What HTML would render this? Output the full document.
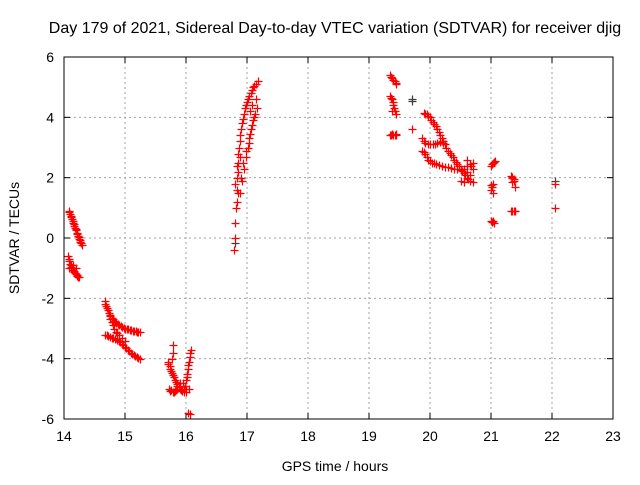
<!DOCTYPE html>
<html><head><meta charset="utf-8"><style>
body{margin:0;background:#fff;}
svg text{font-family:"Liberation Sans",sans-serif;font-size:14px;fill:#000;}
</style></head><body>
<svg id="chart" width="640" height="480" xmlns="http://www.w3.org/2000/svg">
<text x="335" y="33" text-anchor="middle" style="font-size:16px">Day 179 of 2021, Sidereal Day-to-day VTEC variation (SDTVAR) for receiver djig</text>
<g id="grid"></g><g id="axes"></g><g id="marks"></g>
<text x="335" y="471" text-anchor="middle">GPS time / hours</text>
<text x="0" y="0" text-anchor="middle" transform="translate(19,238) rotate(-90)">SDTVAR / TECUs</text>
</svg>
<script>
const xTicks=[14,15,16,17,18,19,20,21,22,23];
const yTicks=[-6,-4,-2,0,2,4,6];
const times=[14.08,14.10,14.12,14.14,14.16,14.18,14.20,14.22,14.24,14.26,14.28,14.29,
14.07,14.08,14.10,14.12,14.09,14.14,14.16,14.18,14.20,14.22,14.25,14.15,14.19,
14.67,14.69,14.72,14.75,14.78,14.82,14.86,14.90,14.95,15.0,15.05,15.1,15.15,15.2,15.25,
14.67,14.72,14.78,14.84,14.9,14.95,15.0,15.05,15.1,15.15,15.2,15.24,14.75,14.8,14.85,14.9,
15.70,15.73,15.76,15.79,15.82,15.85,15.88,15.92,15.96,15.72,15.76,15.80,15.84,15.78,15.78,15.77,15.98,16.0,16.02,16.04,16.06,16.08,16.0,16.05,16.03,16.06,15.95,
16.79,16.80,16.81,16.82,16.83,16.84,16.86,16.87,16.89,16.92,16.95,16.98,17.02,17.06,17.1,17.15,17.18,16.8,16.83,16.85,16.88,
16.88,16.92,16.95,16.98,17.01,17.04,17.07,17.1,17.13,17.16,16.9,16.93,
19.35,19.38,19.42,19.45,19.35,19.38,19.40,19.42,19.45,19.37,19.35,19.38,19.42,19.45,19.7,
19.9,19.95,20.0,20.05,20.1,20.15,20.2,20.25,20.3,20.35,20.4,20.45,20.5,20.55,20.6,20.65,20.7,20.55,20.5,20.6,20.7,
19.87,19.92,19.97,20.05,20.12,20.2,20.25,
19.87,19.92,19.97,20.03,20.1,20.2,20.3,20.4,20.5,20.6,20.7,20.6,
21.0,21.03,21.06,21.0,21.03,21.0,21.03,21.0,21.03,21.05,
21.32,21.35,21.38,21.35,21.4,21.33,21.37,21.4,22.05,22.05];
const values=[0.9,0.8,0.68,0.55,0.45,0.33,0.25,0.12,0.02,-0.08,-0.15,-0.22,
-0.6,-0.75,-0.85,-0.95,-1.0,-1.05,-1.1,-1.15,-1.2,-1.25,-1.3,-0.9,-1.0,
-2.1,-2.25,-2.4,-2.55,-2.65,-2.75,-2.82,-2.9,-2.95,-3.0,-3.02,-3.05,-3.08,-3.1,-3.12,
-3.2,-3.25,-3.3,-3.35,-3.4,-3.5,-3.6,-3.7,-3.8,-3.88,-3.95,-4.0,-2.7,-2.9,-3.1,-3.2,
-4.1,-4.25,-4.4,-4.55,-4.7,-4.85,-4.95,-5.05,-5.1,-5.0,-5.05,-5.1,-5.05,-3.55,-3.8,-4.0,-4.9,-4.7,-4.5,-4.2,-3.95,-3.7,-5.0,-5.0,-5.8,-5.85,-4.8,
-0.4,0.0,0.5,1.0,1.6,2.0,2.5,3.0,3.4,3.8,4.1,4.4,4.6,4.8,5.0,5.1,5.2,1.8,2.4,2.8,3.2,
1.5,1.9,2.3,2.7,3.0,3.3,3.6,3.9,4.1,4.3,2.0,2.5,
5.4,5.3,5.2,5.1,4.7,4.6,4.4,4.2,4.1,4.2,3.4,3.45,3.4,3.45,3.6,
4.15,4.1,4.0,3.85,3.7,3.5,3.3,3.1,2.9,2.75,2.6,2.45,2.3,2.15,2.0,1.9,1.85,1.85,1.9,2.2,2.3,
3.3,3.15,3.1,3.1,3.15,3.2,3.1,
2.9,2.8,2.6,2.5,2.45,2.4,2.35,2.3,2.25,2.4,2.5,2.6,
2.4,2.5,2.55,1.75,1.8,1.6,1.5,0.55,0.55,0.5,
2.05,2.0,1.95,1.85,1.7,0.88,0.9,0.9,1.8,0.98];
const moreTimes=[16.84,16.85,16.86,16.88,16.9,16.93,16.96,17.0,17.04,17.08,17.12,16.99,17.03,17.05,17.09,17.12,17.14,17.08,17.05,
19.92,19.97,20.02,20.07,20.12,20.17,20.22,20.27,20.32,20.37,20.42,20.47,20.52,20.57,20.62,20.66,20.68,
19.9,19.95,20.0,20.07,20.15,20.25,20.35,20.45,20.55,20.65,19.9,20.0,20.08,20.16,20.22,
14.68,14.7,14.73,14.76,14.8,14.84,14.88,14.93,14.98,15.03,15.08,15.13,15.18,15.22,
14.7,14.75,14.81,14.87,14.92,14.97,15.02,15.07,15.12,15.17,15.22,14.78,14.82,14.87,14.95,15.0,
14.09,14.11,14.13,14.17,14.21,14.23,14.11,
14.09,14.11,14.13,14.15,14.17,14.19,14.21,14.23,14.25,14.27,
15.71,15.74,15.77,15.8,15.83,15.86,15.9,15.94,15.74,15.78,15.82,15.86,15.97,16.01,16.03,16.05,16.07,15.9,16.0,
19.36,19.4,19.44,19.36,19.39,19.41,19.36,19.4,19.44,21.01,21.05,21.02,21.02,21.34,21.37,21.35,21.39];
const moreValues=[1.2,1.5,2.2,2.7,3.6,3.95,4.3,4.5,4.7,4.9,5.05,2.9,3.15,3.45,3.75,4.0,4.6,4.4,4.2,
4.12,4.05,3.9,3.78,3.6,3.4,3.2,3.0,2.82,2.68,2.52,2.38,2.22,2.08,1.95,2.1,2.4,
2.85,2.7,2.55,2.47,2.42,2.37,2.32,2.28,2.3,2.45,3.2,3.1,3.12,3.18,3.15,
-2.18,-2.32,-2.48,-2.6,-2.7,-2.78,-2.86,-2.92,-2.98,-3.0,-3.04,-3.07,-3.09,-3.1,
-3.22,-3.28,-3.32,-3.38,-3.45,-3.55,-3.65,-3.75,-3.84,-3.91,-3.97,-2.8,-3.0,-3.15,-3.3,-3.4,
-0.7,-0.9,-1.0,-1.12,-1.22,-1.28,-1.0,
0.85,0.74,0.62,0.5,0.4,0.3,0.18,0.07,-0.03,-0.12,
-4.18,-4.33,-4.48,-4.62,-4.78,-4.9,-5.0,-5.08,-5.08,-5.1,-5.08,-5.0,-5.0,-4.6,-4.35,-4.1,-3.8,-4.8,-5.1,
5.35,5.25,5.15,4.65,4.5,4.3,3.42,3.43,3.42,2.45,2.52,1.7,0.52,2.02,1.9,0.9,0.88];
const blackTimes=[19.7,16.8,22.05,19.7];
const blackValues=[4.6,-0.15,1.9,4.55];

const X0=64,X1=613,Y0=419,Y1=57;
function xs(t){return X0+(t-14)/(23-14)*(X1-X0);}
function ys(v){return Y0-(v+6)/12*(Y0-Y1);}
const NS="http://www.w3.org/2000/svg";
function mk(tag,parent,attrs){const e=document.createElementNS(NS,tag);for(const k in attrs)e.setAttribute(k,attrs[k]);parent.appendChild(e);return e;}
const grid=document.getElementById('grid'),axes=document.getElementById('axes'),marks=document.getElementById('marks');
xTicks.forEach(t=>{const x=xs(t);
 if(t>14&&t<23){const g=mk('line',grid,{x1:x,x2:x,y1:Y1,y2:Y0,stroke:'#a0a0a0','stroke-dasharray':'2,3'});
 
 }
 mk('line',axes,{x1:x,x2:x,y1:Y0,y2:Y0-6,stroke:'#000'});
 mk('line',axes,{x1:x,x2:x,y1:Y1,y2:Y1+6,stroke:'#000'});
 const l=mk('text',axes,{x:x,y:Y0+22,'text-anchor':'middle'});l.textContent=t;
 
 
});
yTicks.forEach(v=>{const y=ys(v);
 if(v>-6&&v<6){const g=mk('line',grid,{x1:X0,x2:X1,y1:y,y2:y,stroke:'#a0a0a0','stroke-dasharray':'2,3'});
 
 }
 mk('line',axes,{x1:X0,x2:X0+6,y1:y,y2:y,stroke:'#000'});
 mk('line',axes,{x1:X1,x2:X1-6,y1:y,y2:y,stroke:'#000'});
 const l=mk('text',axes,{x:X0-10,y:y+5,'text-anchor':'end'});l.textContent=v;
 
 
});
const fr=mk('rect',axes,{x:X0,y:Y1,width:X1-X0,height:Y0-Y1,fill:'none',stroke:'#000'});


function plus(t,v,c){const x=Math.round(xs(t))+0.5,y=Math.round(ys(v))+0.5;
 const p=mk('path',marks,{d:`M${x-4} ${y}H${x+4}M${x} ${y-4}V${y+4}`,stroke:c,'stroke-width':1.2});
 
 }
blackTimes.forEach((t,i)=>plus(t,blackValues[i],'#404040'));
times.forEach((t,i)=>plus(t,values[i],'#ff0000'));
moreTimes.forEach((t,i)=>plus(t,moreValues[i],'#ff0000'));
</script>
</body></html>
